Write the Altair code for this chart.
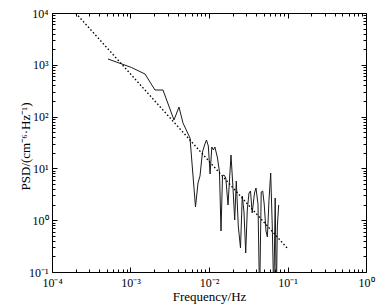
import altair as alt
import pandas as pd

# ---- data ----
freq = [5.17e-4, 1.030e-3, 1.530e-3, 2.052e-3, 2.594e-3, 3.582e-3, 4.147e-3, 4.664e-3,
        5.728e-3, 6.730e-3, 7.243e-3, 7.68e-3, 8.26e-3, 8.79e-3, 9.29e-3, 9.80e-3,
        1.033e-2, 1.086e-2, 1.138e-2, 1.189e-2, 1.283e-2, 1.360e-2, 1.422e-2, 1.486e-2,
        1.553e-2, 1.637e-2, 1.746e-2, 1.907e-2, 2.021e-2, 2.125e-2, 2.227e-2, 2.361e-2,
        2.519e-2, 2.655e-2, 2.791e-2, 2.934e-2, 3.075e-2, 3.232e-2, 3.378e-2, 3.550e-2,
        3.799e-2, 3.969e-2, 4.209e-2, 4.411e-2, 4.624e-2, 4.832e-2, 5.049e-2, 5.322e-2,
        5.545e-2, 5.811e-2, 6.109e-2, 6.402e-2, 6.69e-2, 6.97e-2, 7.20e-2, 7.43e-2, 7.72e-2]
psd = [1294, 887, 664, 326, 326, 86.0, 153, 75.2,
       38.6, 1.80, 5.23, 7.13, 20.7, 28.3, 35.3, 27.1,
       7.80, 25.9, 22.7, 25.9, 15.9, 8.52, 0.619, 7.13,
       7.46, 6.53, 1.97, 18.1, 4.18, 1.01, 5.71, 0.773,
       0.291, 2.93, 1.44, 0.233, 1.57, 3.35, 3.66, 1.38,
       3.35, 4.18, 2.05, 0.03, 3.50, 3.66, 2.05, 0.619,
       0.474, 2.45, 8.15, 0.739, 0.03, 2.68, 0.03, 0.773, 1.97]

fit_freq = [2.0e-4, 0.1]
fit_psd = [1.0e4, 0.285]

x_major = [1e-4, 1e-3, 1e-2, 1e-1, 1e0]
x_labels = ["10\u207b\u2074", "10\u207b\u00b3", "10\u207b\u00b2", "10\u207b\u00b9", "10\u2070"]
y_major = [1e-1, 1e0, 1e1, 1e2, 1e3, 1e4]
y_labels = ["10\u207b\u00b9", "10\u2070", "10\u00b9", "10\u00b2", "10\u00b3", "10\u2074"]
minor_mult = [2, 3, 4, 5, 6, 7, 8, 9]

x_ticks = sorted(x_major + [m * d for d in x_major[:-1] for m in minor_mult])
y_ticks = sorted(y_major + [m * d for d in y_major[:-1] for m in minor_mult])


def label_expr(values, labels):
    parts = [f"datum.value == {v!r} ? '{lab}'" for v, lab in zip(values, labels)]
    return " : ".join(parts) + " : ''"


MAJOR = "abs(log(datum.value)/LN10 - round(log(datum.value)/LN10)) < 1e-6"
tick_size = {"condition": {"test": MAJOR, "value": -5}, "value": -3}

FONT = "Liberation Serif"
base = dict(grid=False, domain=False, ticks=True, tickColor="black", tickWidth=1,
            tickSize=tick_size, labelFont=FONT, labelFontSize=12, labelColor="black",
            titleFont=FONT, titleFontSize=13, titleFontWeight="normal", titleColor="black",
            labelFlush=False, labelOverlap=False)

xb = alt.Axis(orient="bottom", values=x_ticks, labelExpr=label_expr(x_major, x_labels),
              labelPadding=10, titlePadding=0, **base)
xt = alt.Axis(orient="top", values=x_ticks, labels=False, **base)
yl = alt.Axis(orient="left", values=y_ticks, labelExpr=label_expr(y_major, y_labels),
              labelPadding=9, titleX=-20, titleY=133, titleBaseline="bottom", **base)
yr = alt.Axis(orient="right", values=y_ticks, labels=False, **base)

xscale = alt.Scale(type="log", domain=[1e-4, 1], nice=False)
yscale = alt.Scale(type="log", domain=[0.1, 1e4], nice=False)

df = pd.DataFrame({"freq": freq, "psd": psd})
fit_df = pd.DataFrame({"freq": fit_freq, "psd": fit_psd})

line = alt.Chart(df).mark_line(color="#1a1a1a", strokeWidth=1, clip=True).encode(
    x=alt.X("freq:Q", scale=xscale, axis=xb, title="Frequency/Hz"),
    y=alt.Y("psd:Q", scale=yscale, axis=yl, title="PSD/(cm\u207b\u2076\u00b7Hz\u207b\u00b9)"),
)
fit = alt.Chart(fit_df).mark_line(color="black", strokeWidth=1.4, strokeDash=[1.5, 2.2],
                                  clip=True).encode(
    x=alt.X("freq:Q", scale=xscale, axis=xt, title=None),
    y=alt.Y("psd:Q", scale=yscale, axis=yr, title=None),
)

chart = (
    alt.layer(line, fit)
    .resolve_axis(x="independent", y="independent")
    .properties(width=314, height=259,
                padding={"left": 52, "top": 13, "right": 16, "bottom": 34},
                autosize=alt.AutoSizeParams(type="none"))
    .configure_view(stroke="black", strokeWidth=1)
)

chart.save("out.html", embed_options={"renderer": "svg", "actions": False})
